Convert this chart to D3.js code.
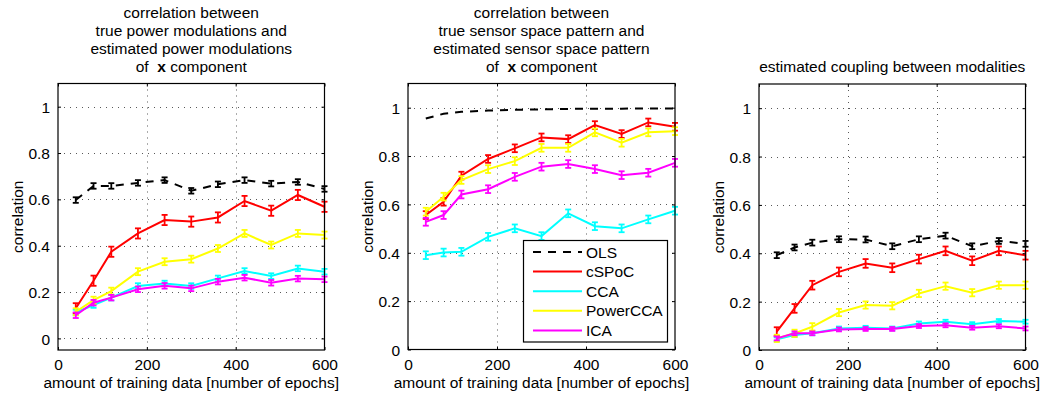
<!DOCTYPE html>
<html>
<head>
<meta charset="utf-8">
<script src="https://cdn.jsdelivr.net/npm/d3@7"></script>
<style>
  body { margin: 0; background: #fff; }
  text { font-family: "Liberation Sans", Arial, Helvetica, sans-serif; font-size: 15.5px; fill: #000; }
</style>
</head>
<body>
<svg id="chart" width="1042" height="396"></svg>
<script>
// ---- data ----
const epochs = [40, 80, 120, 180, 240, 300, 360, 420, 480, 540, 600];
const methods = ["OLS", "cSPoC", "CCA", "PowerCCA", "ICA"];
const methodColors = ["#000000", "#ff0000", "#00ffff", "#ffff00", "#ff00ff"];
const xTicks = [0, 200, 400, 600];
const yTicks = [0, 0.2, 0.4, 0.6, 0.8, 1];
const yTickLabels = ["0", "0.2", "0.4", "0.6", "0.8", "1"];

// power modulations of x component
const powOLS      = [0.597, 0.658, 0.658, 0.671, 0.683, 0.637, 0.665, 0.683, 0.668, 0.675, 0.645];
const powCSPoC    = [0.130, 0.249, 0.374, 0.453, 0.511, 0.504, 0.522, 0.593, 0.551, 0.619, 0.568];
const powCCA      = [0.112, 0.144, 0.176, 0.226, 0.237, 0.226, 0.259, 0.291, 0.269, 0.302, 0.288];
const powPowerCCA = [0.115, 0.165, 0.204, 0.288, 0.331, 0.342, 0.388, 0.453, 0.403, 0.453, 0.446];
const powICA      = [0.100, 0.154, 0.176, 0.212, 0.227, 0.216, 0.245, 0.262, 0.240, 0.258, 0.255];
const powErr      = [0.012, 0.022, 0.012, 0.015, 0.012];

// sensor space pattern of x component
const patOLS      = [0.955, 0.975, 0.983, 0.988, 0.991, 0.993, 0.995, 0.996, 0.996, 0.997, 0.997];
const patCSPoC    = [0.556, 0.611, 0.719, 0.788, 0.832, 0.877, 0.870, 0.928, 0.891, 0.939, 0.921];
const patCCA      = [0.390, 0.401, 0.404, 0.466, 0.501, 0.469, 0.563, 0.510, 0.501, 0.538, 0.574];
const patPowerCCA = [0.570, 0.632, 0.701, 0.746, 0.779, 0.834, 0.834, 0.898, 0.855, 0.898, 0.903];
const patICA      = [0.528, 0.556, 0.641, 0.663, 0.714, 0.756, 0.767, 0.746, 0.721, 0.731, 0.772];
const patErr      = [0.003, 0.016, 0.016, 0.016, 0.016];

// estimated coupling between modalities
const cplOLS      = [0.392, 0.424, 0.444, 0.458, 0.457, 0.429, 0.458, 0.473, 0.429, 0.451, 0.439];
const cplCSPoC    = [0.076, 0.172, 0.268, 0.323, 0.358, 0.340, 0.376, 0.410, 0.369, 0.410, 0.392];
const cplCCA      = [0.044, 0.062, 0.069, 0.089, 0.092, 0.089, 0.110, 0.117, 0.107, 0.120, 0.117];
const cplPowerCCA = [0.048, 0.069, 0.096, 0.155, 0.186, 0.183, 0.234, 0.264, 0.237, 0.268, 0.268];
const cplICA      = [0.048, 0.069, 0.069, 0.085, 0.087, 0.087, 0.099, 0.102, 0.092, 0.098, 0.089];
const cplErr      = [0.012, 0.018, 0.008, 0.015, 0.008];

const titlePow = ["correlation between", "true power modulations and", "estimated power modulations", "of |x| component"];
const titlePat = ["correlation between", "true sensor space pattern and", "estimated sensor space pattern", "of |x| component"];
const titleCpl = ["estimated coupling between modalities"];
const xLabel = "amount of training data [number of epochs]";
const yLabel = "correlation";

// ---- layout ----
const panels = [
  { box: [58, 83.5, 324.5, 350], yMin: -0.05, series: [powOLS, powCSPoC, powCCA, powPowerCCA, powICA], err: powErr, title: titlePow, legend: false },
  { box: [408, 83.5, 675, 349.5], yMin: 0, series: [patOLS, patCSPoC, patCCA, patPowerCCA, patICA], err: patErr, title: titlePat, legend: true },
  { box: [759, 84, 1025.5, 350], yMin: 0, series: [cplOLS, cplCSPoC, cplCCA, cplPowerCCA, cplICA], err: cplErr, title: titleCpl, legend: false }
];

const svg = d3.select("#chart");

panels.forEach(p => {
  const [x0, y0, x1, y1] = p.box;
  const x = d3.scaleLinear().domain([0, 600]).range([x0, x1]);
  const y = d3.scaleLinear().domain([p.yMin, 1.1]).range([y1, y0]);
  const g = svg.append("g");

  // dotted grid
  const grid = g.append("g").attr("stroke", "#222").attr("stroke-width", 1)
    .attr("stroke-dasharray", "1,5").attr("opacity", 0.75);
  grid.selectAll("line.gx").data(xTicks.filter(t => t > 0 && t < 600)).join("line")
    .attr("x1", d => Math.round(x(d)) + 0.5).attr("x2", d => Math.round(x(d)) + 0.5)
    .attr("y1", y0).attr("y2", y1);
  grid.selectAll("line.gy").data(yTicks.filter(t => y(t) < y1 - 1)).join("line")
    .attr("class", "gy")
    .attr("y1", d => Math.round(y(d)) + 0.5).attr("y2", d => Math.round(y(d)) + 0.5)
    .attr("x1", x0).attr("x2", x1);

  // series
  p.series.forEach((vals, i) => {
    const color = methodColors[i];
    const pts = epochs.map((e, k) => [e, vals[k]]);
    const line = d3.line().x(d => x(d[0])).y(d => y(d[1]));
    g.append("path").datum(pts)
      .attr("d", line).attr("fill", "none").attr("stroke", color)
      .attr("stroke-width", 2)
      .attr("stroke-dasharray", i === 0 ? "8,7" : null);
    const e = p.err[i];
    if (e > 0.004) {
      const eb = g.append("g").attr("stroke", color).attr("stroke-width", 1.8);
      eb.selectAll("line.v").data(pts).join("line").attr("class", "v")
        .attr("x1", d => x(d[0])).attr("x2", d => x(d[0]))
        .attr("y1", d => y(d[1] - e)).attr("y2", d => y(d[1] + e));
      eb.selectAll("line.t").data(pts).join("line").attr("class", "t")
        .attr("x1", d => x(d[0]) - 3).attr("x2", d => x(d[0]) + 3)
        .attr("y1", d => y(d[1] + e)).attr("y2", d => y(d[1] + e));
      eb.selectAll("line.b").data(pts).join("line").attr("class", "b")
        .attr("x1", d => x(d[0]) - 3).attr("x2", d => x(d[0]) + 3)
        .attr("y1", d => y(d[1] - e)).attr("y2", d => y(d[1] - e));
    }
  });

  // axes with inward ticks on all four sides
  const fmt = d => yTickLabels[yTicks.indexOf(d)];
  const axB = g.append("g").attr("transform", `translate(0,${y1})`)
    .call(d3.axisBottom(x).tickValues(xTicks).tickSize(-3).tickPadding(7).tickSizeOuter(0));
  const axT = g.append("g").attr("transform", `translate(0,${y0})`)
    .call(d3.axisTop(x).tickValues(xTicks).tickSize(-3).tickFormat("").tickSizeOuter(0));
  const axL = g.append("g").attr("transform", `translate(${x0},0)`)
    .call(d3.axisLeft(y).tickValues(yTicks).tickFormat(fmt).tickSize(-3).tickPadding(8).tickSizeOuter(0));
  const axR = g.append("g").attr("transform", `translate(${x1},0)`)
    .call(d3.axisRight(y).tickValues(yTicks).tickFormat("").tickSize(-3).tickSizeOuter(0));
  [axB, axT, axL, axR].forEach(a => {
    a.select(".domain").remove();
    a.selectAll("line").attr("stroke", "#000");
    a.selectAll("text").attr("font-size", null).attr("font-family", null).attr("fill", "#000");
  });
  axB.selectAll("text").attr("dy", null).attr("y", 20);
  axL.selectAll("text").attr("dy", "0.36em");

  // box
  g.append("rect").attr("x", x0).attr("y", y0).attr("width", x1 - x0).attr("height", y1 - y0)
    .attr("fill", "none").attr("stroke", "#000").attr("stroke-width", 1.2);

  // axis labels
  g.append("text").attr("x", (x0 + x1) / 2).attr("y", 388).attr("text-anchor", "middle").text(xLabel);
  g.append("text").attr("transform", `translate(${x0 - 35},${(y0 + y1) / 2}) rotate(-90)`)
    .attr("text-anchor", "middle").text(yLabel);

  // title
  const n = p.title.length;
  p.title.forEach((ln, k) => {
    const t = g.append("text").attr("x", (x0 + x1) / 2).attr("y", 71.5 - (n - 1 - k) * 18)
      .attr("text-anchor", "middle").style("white-space", "pre");
    const parts = ln.split("|");
    parts.forEach((s, j) => {
      t.append("tspan").attr("font-weight", j === 1 ? "bold" : null).text(j === 0 && parts.length > 1 ? s + " " : s);
    });
  });

  // legend
  if (p.legend) {
    const lg = g.append("g");
    lg.append("rect").attr("x", 523.5).attr("y", 240.5).attr("width", 144).attr("height", 101.5)
      .attr("fill", "#fff").attr("stroke", "#000").attr("stroke-width", 1.2);
    methods.forEach((m, i) => {
      const cy = 252 + i * 19.6;
      lg.append("line").attr("x1", 533).attr("x2", 582).attr("y1", cy).attr("y2", cy)
        .attr("stroke", methodColors[i]).attr("stroke-width", 2)
        .attr("stroke-dasharray", i === 0 ? "8,7" : null);
      lg.append("text").attr("x", 586).attr("y", cy).attr("dy", "0.36em").text(m);
    });
  }
});
</script>
</body>
</html>
